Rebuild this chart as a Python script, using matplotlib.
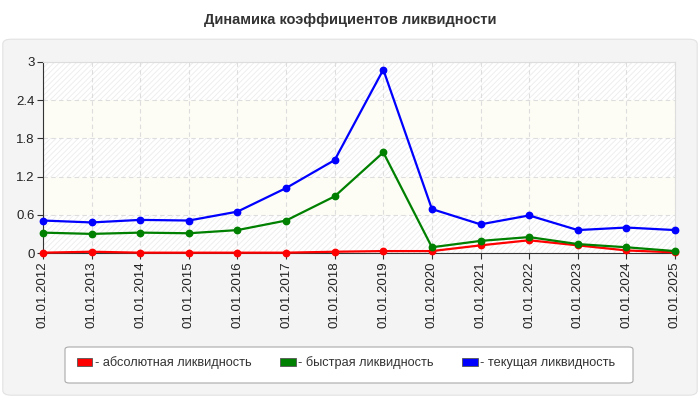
import matplotlib
matplotlib.use("Agg")
import matplotlib.pyplot as plt
from matplotlib.patches import FancyBboxPatch, Patch

plt.rcParams['font.family'] = ['Liberation Sans', 'DejaVu Sans']
plt.rcParams['hatch.linewidth'] = 0.6

## Data ##
years = ["01.01.2012", "01.01.2013", "01.01.2014", "01.01.2015", "01.01.2016",
         "01.01.2017", "01.01.2018", "01.01.2019", "01.01.2020", "01.01.2021",
         "01.01.2022", "01.01.2023", "01.01.2024", "01.01.2025"]
absolute = [0.005, 0.02, 0.005, 0.005, 0.005, 0.005, 0.02, 0.03, 0.03, 0.12,
            0.20, 0.12, 0.04, 0.01]
quick = [0.32, 0.30, 0.32, 0.31, 0.36, 0.51, 0.89, 1.58, 0.09, 0.19,
         0.25, 0.14, 0.09, 0.03]
current = [0.51, 0.48, 0.52, 0.51, 0.65, 1.02, 1.46, 2.88, 0.69, 0.45,
           0.59, 0.36, 0.40, 0.36]
y_ticks = [0, 0.6, 1.2, 1.8, 2.4, 3]
labels = ["- абсолютная ликвидность", "- быстрая ликвидность", "- текущая ликвидность"]
colors = ["#ff0000", "#008000", "#0000ff"]
## Data ##

fig = plt.figure(figsize=(7, 4), dpi=100)
fig.patch.set_facecolor("white")

# grey panel behind everything
panel = FancyBboxPatch((0.004, 0.012), 0.992, 0.89,
                       boxstyle="round,pad=0,rounding_size=0.012",
                       transform=fig.transFigure, facecolor="#f4f4f4",
                       edgecolor="#e2e2e2", linewidth=0.8, zorder=-10)
fig.patches.append(panel)

# legend box (drawn separately, wider than its entries)
leg_box = FancyBboxPatch((65 / 700, 1 - 383 / 400), 568 / 700, 36 / 400,
                         boxstyle="round,pad=0,rounding_size=0.006",
                         transform=fig.transFigure, facecolor="white",
                         edgecolor="#aaaaaa", linewidth=0.8, zorder=-5)
fig.patches.append(leg_box)

fig.text(0.5, 0.95, "Динамика коэффициентов ликвидности", ha="center",
         va="center", fontsize=10.5, fontweight="bold", color="#333333")

ax = fig.add_axes([43 / 700, 1 - 253 / 400, 632 / 700, 191 / 400])
ax.set_facecolor("white")

# alternating bands
for i in range(len(y_ticks) - 1):
    if i % 2 == 0:
        ax.axhspan(y_ticks[i], y_ticks[i + 1], facecolor="white",
                   edgecolor="#ececec", hatch="//////", linewidth=0, zorder=0)
    else:
        ax.axhspan(y_ticks[i], y_ticks[i + 1], facecolor="#fdfdf6",
                   edgecolor="none", linewidth=0, zorder=0)

x = range(len(years))
for vals, c in zip((absolute, quick, current), colors):
    ax.plot(x, vals, color=c, linewidth=1.6, marker="o", markersize=4.6,
            clip_on=False, zorder=3)

ax.set_xlim(0, len(years) - 1)
ax.set_ylim(0, 3)
ax.set_xticks(list(x))
ax.set_xticklabels(years, rotation=90, fontsize=9.5, color="#222222")
ax.set_yticks(y_ticks)
ax.set_yticklabels([f"{t:g}" for t in y_ticks], fontsize=9.5, color="#222222")
ax.grid(True, color="#dddddd", linestyle=(0, (4, 3)), linewidth=0.8, zorder=1)
ax.set_axisbelow(True)

for s in ("top", "right"):
    ax.spines[s].set_color("#dddddd")
for s in ("left", "bottom"):
    ax.spines[s].set_color("#333333")
ax.tick_params(axis="both", length=4, color="#333333", pad=2)

handles = [Patch(facecolor=c, edgecolor="#555555", linewidth=0.6) for c in colors]
leg = fig.legend(handles, labels, loc="center left", ncol=3,
                 bbox_to_anchor=(65 / 700, 1 - 363 / 400),
                 fontsize=9.2, frameon=False, handlelength=1.25,
                 handleheight=0.6, handletextpad=0.2, columnspacing=2.2)
for t in leg.get_texts():
    t.set_color("#333333")

fig.savefig("out.png", dpi=100)
